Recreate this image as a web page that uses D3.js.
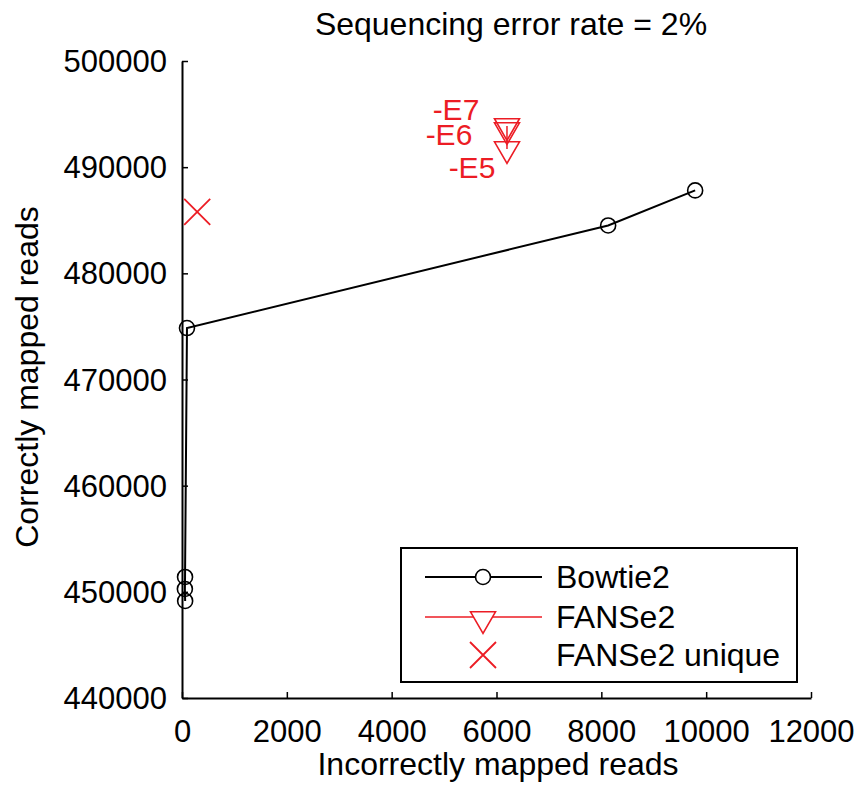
<!DOCTYPE html>
<html>
<head>
<meta charset="utf-8">
<script src="https://cdn.jsdelivr.net/npm/d3@7"></script>
<style>
  body { margin: 0; background: #fff; }
  svg text { font-family: "Liberation Sans", Arial, sans-serif; }
</style>
</head>
<body>
<div id="chart"></div>
<script>
const bowtieX = [60, 55, 58, 95, 8130, 9790]
const bowtieY = [449140, 450270, 451400, 474850, 484510, 487810]
const fanseX = [6200, 6200, 6200]
const fanseY = [493880, 493500, 491710]
const fanseLabels = ['-E7', '-E6', '-E5']
const uniqueX = [290]
const uniqueY = [485780]
const xTicks = [0, 2000, 4000, 6000, 8000, 10000, 12000]
const yTicks = [440000, 450000, 460000, 470000, 480000, 490000, 500000]
const legendNames = ['Bowtie2', 'FANSe2', 'FANSe2 unique']

const red = '#ec1c24'
const W = 859, H = 787

const svg = d3.select('#chart').append('svg')
    .attr('width', W)
    .attr('height', H)

const x = d3.scaleLinear().domain([0, 12000]).range([182, 811])
const y = d3.scaleLinear().domain([440000, 500000]).range([698, 61])

// axes, ticks point inward
const xAxis = svg.append('g')
    .attr('transform', `translate(0, ${y(440000)})`)
    .call(d3.axisBottom(x).tickValues(xTicks).tickSize(-6).tickSizeOuter(0).tickFormat(d3.format('d')))
xAxis.select('.domain').attr('stroke-width', 2)
xAxis.selectAll('.tick line').attr('stroke-width', 1.5)
xAxis.selectAll('text').attr('font-size', 31).attr('y', 44).attr('dy', null).attr('fill', '#000')

const yAxis = svg.append('g')
    .attr('transform', `translate(${x(0)}, 0)`)
    .call(d3.axisLeft(y).tickValues(yTicks).tickSize(-6).tickSizeOuter(0).tickFormat(d3.format('d')))
yAxis.select('.domain').attr('stroke-width', 2)
yAxis.selectAll('.tick line').attr('stroke-width', 1.5)
yAxis.selectAll('text').attr('font-size', 31).attr('x', -15).attr('dy', '0.34em').attr('fill', '#000')

// title and labels
svg.append('text')
    .attr('x', 511).attr('y', 35)
    .attr('text-anchor', 'middle')
    .attr('font-size', 32)
    .text('Sequencing error rate = 2%')

svg.append('text')
    .attr('x', 498).attr('y', 775)
    .attr('text-anchor', 'middle')
    .attr('font-size', 32)
    .text('Incorrectly mapped reads')

svg.append('text')
    .attr('transform', 'translate(38, 377) rotate(-90)')
    .attr('text-anchor', 'middle')
    .attr('font-size', 32)
    .text('Correctly mapped reads')

// Bowtie2
const bowtie = bowtieX.map((v, i) => ({ x: v, y: bowtieY[i] }))
svg.append('path')
    .datum(bowtie)
    .attr('fill', 'none')
    .attr('stroke', '#000')
    .attr('stroke-width', 2)
    .attr('d', d3.line().x(d => x(d.x)).y(d => y(d.y)))

svg.selectAll('.bt')
    .data(bowtie)
    .enter()
    .append('circle')
    .attr('cx', d => x(d.x))
    .attr('cy', d => y(d.y))
    .attr('r', 7.5)
    .attr('fill', 'none')
    .attr('stroke', '#000')
    .attr('stroke-width', 1.6)

// FANSe2
const tri = d3.symbol().type(d3.symbolTriangle).size(270)
const fanse = fanseX.map((v, i) => ({ x: v, y: fanseY[i], label: fanseLabels[i] }))
svg.append('path')
    .datum(fanse)
    .attr('fill', 'none')
    .attr('stroke', red)
    .attr('stroke-width', 1.5)
    .attr('d', d3.line().x(d => x(d.x)).y(d => y(d.y)))

svg.selectAll('.fa')
    .data(fanse)
    .enter()
    .append('path')
    .attr('d', tri)
    .attr('transform', d => `translate(${x(d.x)}, ${y(d.y)}) rotate(180)`)
    .attr('fill', 'none')
    .attr('stroke', red)
    .attr('stroke-width', 1.6)

const labelOffsets = [[-51, -6], [-58, 15], [-35, 29]]
svg.selectAll('.fl')
    .data(fanse)
    .enter()
    .append('text')
    .attr('x', (d, i) => x(d.x) + labelOffsets[i][0])
    .attr('y', (d, i) => y(d.y) + labelOffsets[i][1])
    .attr('text-anchor', 'middle')
    .attr('font-size', 30)
    .attr('fill', red)
    .text(d => d.label)

// FANSe2 unique
function cross(g, cx, cy, s) {
    g.append('path')
        .attr('d', `M${cx - s},${cy - s}L${cx + s},${cy + s}M${cx - s},${cy + s}L${cx + s},${cy - s}`)
        .attr('stroke', red)
        .attr('stroke-width', 1.8)
        .attr('fill', 'none')
}
uniqueX.forEach((v, i) => cross(svg, x(v), y(uniqueY[i]), 13))

// legend
const lg = svg.append('g')
lg.append('rect')
    .attr('x', 401).attr('y', 548)
    .attr('width', 396).attr('height', 134)
    .attr('fill', '#fff')
    .attr('stroke', '#000')
    .attr('stroke-width', 2)

const rowY = [577, 617, 655]
lg.append('line').attr('x1', 425).attr('x2', 542).attr('y1', rowY[0]).attr('y2', rowY[0])
    .attr('stroke', '#000').attr('stroke-width', 2)
lg.append('circle').attr('cx', 483).attr('cy', rowY[0]).attr('r', 7.5)
    .attr('fill', '#fff').attr('stroke', '#000').attr('stroke-width', 1.6)
lg.append('line').attr('x1', 425).attr('x2', 542).attr('y1', rowY[1]).attr('y2', rowY[1])
    .attr('stroke', red).attr('stroke-width', 1.5)
lg.append('path').attr('d', tri)
    .attr('transform', `translate(483, ${rowY[1] + 2}) rotate(180)`)
    .attr('fill', '#fff').attr('stroke', red).attr('stroke-width', 1.6)
cross(lg, 483, rowY[2], 13)

lg.selectAll('.lt')
    .data(legendNames)
    .enter()
    .append('text')
    .attr('x', 556)
    .attr('y', (d, i) => rowY[i])
    .attr('dy', '0.35em')
    .attr('font-size', 32)
    .text(d => d)
</script>
</body>
</html>
